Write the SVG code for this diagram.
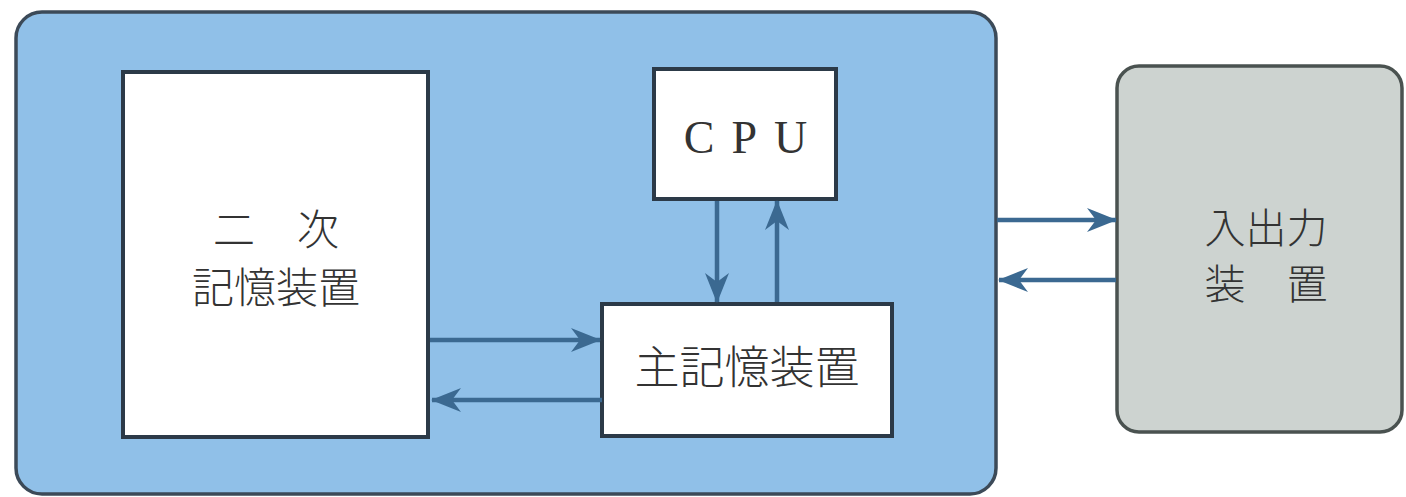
<svg xmlns="http://www.w3.org/2000/svg" width="1406" height="497" viewBox="0 0 1406 497">
<defs>
<marker id="ah" viewBox="0 0 30 24" refX="29" refY="12" markerWidth="30" markerHeight="24" markerUnits="userSpaceOnUse" orient="auto">
<path d="M0,0 L30,12 L0,24 L9,12 Z" fill="#3b6991"/>
</marker>
<style>
.box{fill:#fff;stroke:#2c3a48;stroke-width:4}
.conn{stroke:#3b6991;stroke-width:4.5;fill:none;marker-end:url(#ah)}
.lbl{font-family:"Noto Sans CJK JP","Liberation Serif",sans-serif;font-weight:300;fill:#333;text-anchor:middle}
.ser{font-family:"Liberation Serif",serif;fill:#333;text-anchor:middle}
</style>
</defs>
<rect width="1406" height="497" fill="#fff"/>
<g id="computer">
<rect x="16" y="12" width="980" height="482" rx="26" fill="#90c0e8" stroke="#3c4a58" stroke-width="3.5"/>
</g>
<g id="secondary">
<rect class="box" x="123" y="72" width="305" height="365"/>
<text class="lbl" x="276" y="245" font-size="42">二　次</text>
<text class="lbl" x="276" y="303" font-size="42">記憶装置</text>
</g>
<g id="cpu">
<rect class="box" x="654" y="69" width="182" height="130"/>
<text class="ser" x="754" y="153" font-size="46" letter-spacing="17">CPU</text>
</g>
<g id="main">
<rect class="box" x="602" y="304" width="290" height="132"/>
<text class="lbl" x="747" y="384" font-size="45">主記憶装置</text>
</g>
<g id="io">
<rect x="1117" y="66" width="285" height="366" rx="22" fill="#cdd3d0" stroke="#4a5250" stroke-width="3.5"/>
<text class="lbl" x="1266" y="243" font-size="41">入出力</text>
<text class="lbl" x="1266" y="299" font-size="41">装　置</text>
</g>
<g id="connectors">
<path class="conn" d="M430,340 L600,340"/>
<path class="conn" d="M602,400 L432,400"/>
<path class="conn" d="M717,201 L717,302"/>
<path class="conn" d="M777,302 L777,201"/>
<path class="conn" d="M997,220 L1116,220"/>
<path class="conn" d="M1116,280 L999,280"/>
</g>
</svg>
